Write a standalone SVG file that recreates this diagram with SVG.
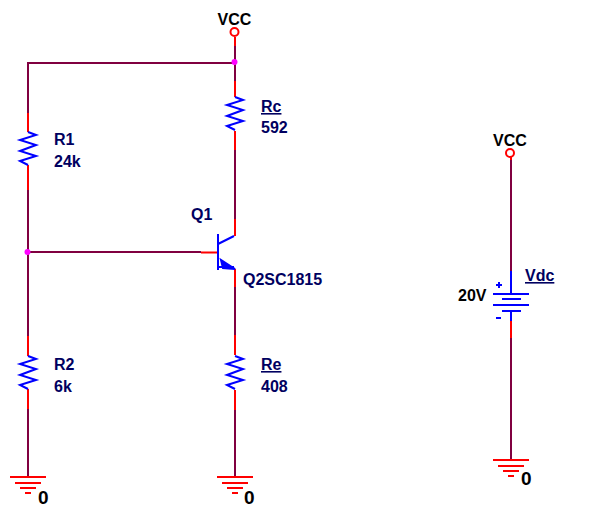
<svg xmlns="http://www.w3.org/2000/svg" width="603" height="521" viewBox="0 0 603 521">
<style>
.w{fill:none;stroke:#800040;stroke-width:2}
.p{fill:none;stroke:#ff0000;stroke-width:2}
.b{fill:none;stroke:#0000ff;stroke-width:2}
.g{fill:none;stroke:#ff0000;stroke-width:2}
.t{font-family:"Liberation Sans",Arial,sans-serif;font-size:16px;font-weight:bold;fill:#000060}
.k{font-family:"Liberation Sans",Arial,sans-serif;font-size:16px;font-weight:bold;fill:#000000}
.z{font-family:"Liberation Sans",Arial,sans-serif;font-size:19px;font-weight:bold;fill:#000000}
.j{fill:#ff00ff}
</style>
<defs>
<path id="zig" d="M0 0L8 3L-8 8L8 13L-8 19L8 24L-8 29L0 33" class="b"/>
<g id="gnd"><path class="g" d="M-18 0H18M-13 6H13M-8 11H8M-3 16H3"/></g>
</defs>
<rect width="603" height="521" fill="#ffffff"/>
<g id="connectors">
<path class="w" d="M28 113V63H235M235 46V81M235 150V219M28 190V336M28 252H201M28 409V477M235 287V335M235 410V476M511 160V271M511 338V460"/>
<path class="p" d="M235 37V46M235 81V97M235 131V150M28 113V132M28 165V190M28 336V356M28 389V409M235 219V236M201 252.500H218M235 269V287M235 335V355M235 390V410M511 157V160M511 321V338"/>
</g>
<g id="vcc1"><circle cx="234.500" cy="32" r="4" fill="#fff" stroke="#ff0000" stroke-width="2"/><text class="k" x="234.500" y="25" text-anchor="middle">VCC</text></g>
<g id="vcc2"><circle cx="510" cy="153" r="4" fill="#fff" stroke="#ff0000" stroke-width="2"/><text class="k" x="510" y="146" text-anchor="middle">VCC</text></g>
<g id="J1"><circle class="j" cx="234.500" cy="62" r="3"/></g>
<g id="J2"><circle class="j" cx="27.500" cy="252" r="3"/></g>
<g id="Rc"><use href="#zig" x="235" y="97"/><text class="t" x="261" y="112" text-decoration="underline">Rc</text><text class="t" x="261" y="133">592</text></g>
<g id="R1"><use href="#zig" x="28" y="132"/><text class="t" x="54" y="145">R1</text><text class="t" x="54" y="167">24k</text></g>
<g id="R2"><use href="#zig" x="28" y="356"/><text class="t" x="54" y="370">R2</text><text class="t" x="54" y="392">6k</text></g>
<g id="Re"><use href="#zig" x="235" y="356"/><text class="t" x="261" y="370" text-decoration="underline">Re</text><text class="t" x="261" y="392">408</text></g>
<g id="Q1">
<path class="b" d="M218 234V270M218 244L234 236M218 267H234"/>
<path d="M235 269L221 260L223 268Z" fill="#0000ff" stroke="#0000ff" stroke-width="2" stroke-linejoin="miter"/>
<text class="t" x="191" y="220">Q1</text><text class="t" x="243" y="285">Q2SC1815</text>
</g>
<g id="Vdc">
<path class="b" d="M511 271V294M493 294H529M502 299H521M493 305H529M502 311H521M511 311V321M496 285H502M499 282V288M496 318H501"/>
<text class="t" x="525" y="281" text-decoration="underline">Vdc</text>
<text class="k" x="458" y="301">20V</text>
</g>
<g id="G1"><use href="#gnd" x="28" y="477"/><text class="z" x="38" y="504">0</text></g>
<g id="G2"><use href="#gnd" x="235" y="477"/><text class="z" x="244" y="504">0</text></g>
<g id="G3"><use href="#gnd" x="511" y="460"/><text class="z" x="521" y="485">0</text></g>
</svg>
